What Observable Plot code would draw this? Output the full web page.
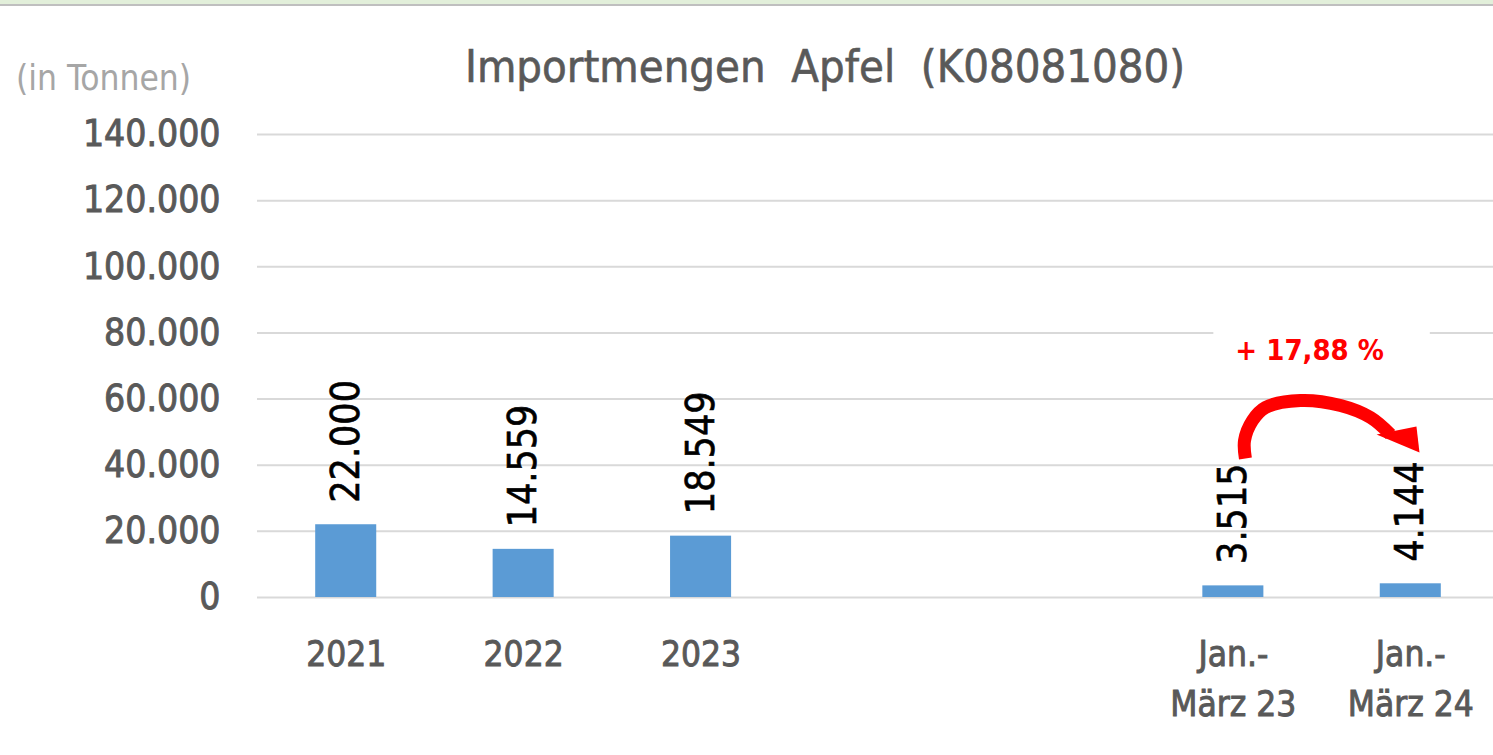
<!DOCTYPE html>
<html>
<head>
<meta charset="utf-8">
<script src="https://cdn.jsdelivr.net/npm/d3@7"></script>
<script src="https://cdn.jsdelivr.net/npm/@observablehq/plot@0.6"></script>
<style>
  html, body { margin: 0; padding: 0; background: #ffffff; }
  #wrap { position: relative; width: 1493px; height: 755px; overflow: hidden; background: #fff; }
  #topband { position: absolute; left: 0; top: 0; width: 1493px; height: 4px; background: #e2efda; border-bottom: 2px solid #bfbfbf; }
  #title { position: absolute; left: 0; width: 1650px; top: 44px; text-align: center; font-family: "DejaVu Sans Condensed", "DejaVu Sans", sans-serif; font-size: 45px; color: #595959; white-space: pre; line-height: 1; -webkit-text-stroke: 0.6px #595959; }
  #unit { position: absolute; left: 16px; top: 61px; font-family: "DejaVu Sans Condensed", "DejaVu Sans", sans-serif; font-size: 35px; color: #a6a6a6; line-height: 1; }
  #chart { position: absolute; left: 0; top: 0; }
  #chart g[aria-label="y-axis tick label"] text,
  #chart g[aria-label="x-axis tick label"] text { stroke: #595959; stroke-width: 0.9px; paint-order: stroke; }
  #chart g.value-labels text { stroke: #000; stroke-width: 0.6px; paint-order: stroke; }
</style>
</head>
<body>
<div id="wrap">
  <div id="chart"></div>
  <div id="topband"></div>
  <div id="title">Importmengen  Apfel  (K08081080)</div>
  <div id="unit">(in Tonnen)</div>
</div>
<script>
// ---- data ----
// category slots (two empty slots separate the yearly totals from the Jan.-März periods)
const categories = ["2021", "2022", "2023", "", "", "Jan.-März 23", "Jan.-März 24"];
const xTickLabels = ["2021", "2022", "2023", "", "", "Jan.-\nMärz 23", "Jan.-\nMärz 24"];
const barCategories = ["2021", "2022", "2023", "Jan.-März 23", "Jan.-März 24"];
const values = [22000, 14559, 18549, 3515, 4144];
const yTicks = [0, 20000, 40000, 60000, 80000, 100000, 120000, 140000];

// annotation: change between the two Jan.-März periods (positions in slot index / tonnes)
const changeText = ["+ 17,88 %"];
const changeTextX = [5.43];
const changeTextY = [74700];
const changeBoxX = [4.89, 6.11];
const changeBoxY = [65600, 83200];
const arrowX = [5.068, 5.063, 5.108, 5.181, 5.378, 5.604, 5.773, 5.886];
const arrowY = [42000, 47470, 53520, 57450, 59570, 58060, 54430, 49290];
const arrowHeadX = [5.807, 6.032, 6.049];
const arrowHeadY = [49290, 51710, 43850];

// ---- build ----
const de = d3.formatLocale({decimal: ",", thousands: ".", grouping: [3], currency: ["", " €"]});
const fmt = de.format(",d");

const bars = barCategories.map((c, k) => ({i: categories.indexOf(c), cat: c, value: values[k]}));
const tickPositions = xTickLabels.map((t, i) => t ? i : null).filter(i => i !== null);
const label = changeText.map((t, k) => ({text: t, x: changeTextX[k], y: changeTextY[k]}));
const box = [{x1: changeBoxX[0], x2: changeBoxX[1], y1: changeBoxY[0], y2: changeBoxY[1]}];
const arrowPath = arrowX.map((x, k) => ({x, y: arrowY[k]}));
const arrowHead = arrowHeadX.map((x, k) => ({x, y: arrowHeadY[k]}));

const FONT = '"DejaVu Sans Condensed", "DejaVu Sans", sans-serif';
const HALF = 0.172; // half bar width in slot units

const chart = Plot.plot({
  width: 1493,
  height: 755,
  marginLeft: 257,
  marginRight: 0,
  marginTop: 134,
  marginBottom: 158,
  style: {fontFamily: FONT, color: "#595959", background: "transparent", overflow: "visible"},
  x: {type: "linear", domain: [-0.5, categories.length - 0.5], range: [257, 1499]},
  y: {domain: [0, 140000]},
  marks: [
    Plot.gridY({ticks: yTicks, stroke: "#d9d9d9", strokeOpacity: 1, strokeWidth: 2}),
    Plot.rectY(bars, {x1: d => d.i - HALF, x2: d => d.i + HALF, y: "value", fill: "#5b9bd5"}),
    Plot.text(bars, {x: "i", y: "value", text: d => fmt(d.value), rotate: -90, textAnchor: "start", dy: -22, fontSize: 39, fill: "#000", className: "value-labels"}),
    Plot.rect(box, {x1: "x1", x2: "x2", y1: "y1", y2: "y2", fill: "#fff"}),
    Plot.text(label, {x: "x", y: "y", text: "text", fontSize: 29, fontWeight: "bold", fill: "#ff0000"}),
    Plot.line(arrowPath, {x: "x", y: "y", curve: "catmull-rom", stroke: "#ff0000", strokeWidth: 13, strokeLinecap: "butt"}),
    Plot.line(arrowHead, {x: "x", y: "y", fill: "#ff0000", stroke: "none"}),
    Plot.axisY({ticks: yTicks, tickFormat: fmt, tickSize: 0, tickPadding: 37, fontSize: 37}),
    Plot.axisX({ticks: tickPositions, tickFormat: i => xTickLabels[i], tickSize: 0, tickPadding: 33, fontSize: 35, lineHeight: 1.43, label: null})
  ]
});
document.getElementById("chart").appendChild(chart);
</script>
</body>
</html>
